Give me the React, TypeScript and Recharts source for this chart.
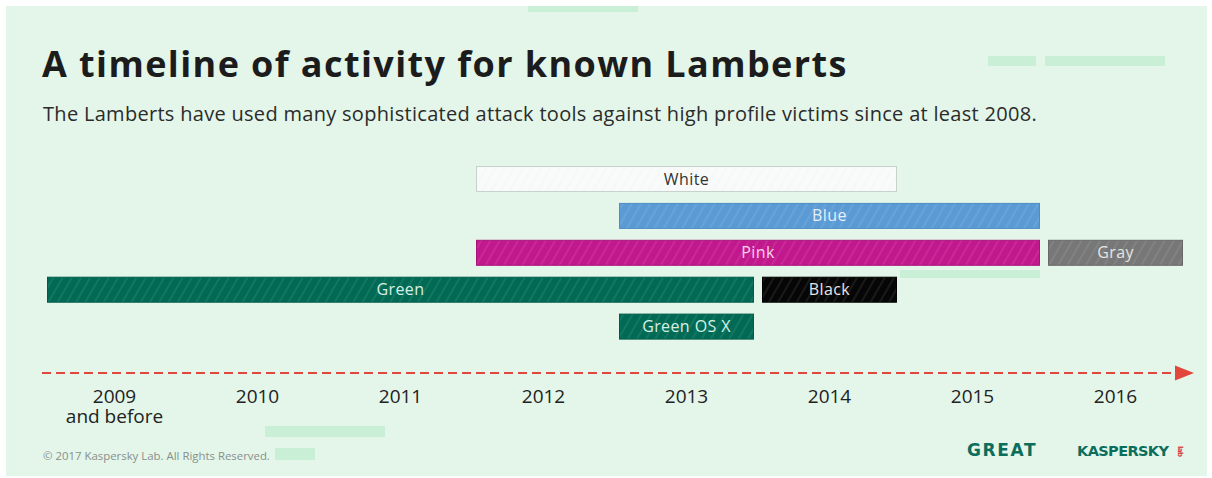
import React from 'react';
import { BarChart, Bar, XAxis, YAxis } from 'recharts';

// years shown on the timeline
const YEARS = [2009, 2010, 2011, 2012, 2013, 2014, 2015, 2016];
const FIRST_YEAR_NOTE = 'and before';

// one chart row per line of bars
const ROW_KEYS = ['r1', 'r2', 'r3', 'r4', 'r5'];

// first bar on each row
const MAIN_NAMES = ['White', 'Blue', 'Pink', 'Green', 'Green OS X'];
const MAIN_FROM = [2012, 2013, 2012, 2009, 2013];
const MAIN_TO = [2014, 2015, 2015, 2013, 2013];

// second bar on a row, if any
const EXTRA_NAMES = ['', '', 'Gray', 'Black', ''];
const EXTRA_FROM: (number | null)[] = [null, null, 2016, 2014, null];
const EXTRA_TO: (number | null)[] = [null, null, 2016, 2014, null];

// part of a year column that a bar covers (the rest is the gap)
const COLUMN_FILL = 135 / 143;

const BAR_STYLE: Record<string, { fill: string; stroke: string; text: string }> = {
  White: { fill: '#f9fbfa', stroke: '#c8d2cd', text: '#333333' },
  Blue: { fill: '#5b9bd5', stroke: '#4d8bc4', text: '#e6f0fa' },
  Pink: { fill: '#c2188e', stroke: '#a9127b', text: '#f6d3ea' },
  Gray: { fill: '#777777', stroke: '#686868', text: '#e4e4e4' },
  Green: { fill: '#006a54', stroke: '#005c49', text: '#d6f0e4' },
  Black: { fill: '#060606', stroke: '#000000', text: '#e6e6e6' },
  'Green OS X': { fill: '#006a54', stroke: '#005c49', text: '#d6f0e4' },
};

// light highlight strips in the backdrop: [left, top, width, height]
const BACKDROP_STRIPS = [
  [528, 6, 110, 6],
  [988, 56, 48, 10],
  [1045, 56, 120, 10],
  [900, 270, 140, 8],
  [265, 426, 120, 11],
  [275, 448, 40, 12],
];

const tableData = ROW_KEYS.map((row, i) => ({
  row,
  mainName: MAIN_NAMES[i],
  main: [MAIN_FROM[i], MAIN_TO[i] + COLUMN_FILL],
  extraName: EXTRA_NAMES[i],
  extra: EXTRA_FROM[i] == null ? null : [EXTRA_FROM[i] as number, (EXTRA_TO[i] as number) + COLUMN_FILL],
}));

const tickCenters = YEARS.map((y) => y + COLUMN_FILL / 2);

const makeShape = (nameKey: 'mainName' | 'extraName') => (props: any) => {
  const { x, y, width, height, payload } = props;
  const name = payload ? payload[nameKey] : '';
  if (!name || !width || width <= 0) return <g />;
  const s = BAR_STYLE[name];
  return (
    <g>
      <rect x={x + 0.5} y={y + 0.5} width={width - 1} height={height - 1} fill={s.fill} stroke={s.stroke} strokeWidth={1} />
      <rect x={x + 1} y={y + 1} width={width - 2} height={height - 2} fill={name === 'White' ? 'url(#stripesDark)' : 'url(#stripes)'} />
      <text
        x={x + width / 2}
        y={y + height / 2 + 5.5}
        textAnchor="middle"
        fontSize={16}
        letterSpacing={0.4}
        fontFamily="'Open Sans', sans-serif"
        fill={s.text}
      >
        {name}
      </text>
    </g>
  );
};

const YearTick = (props: any) => {
  const { x, y, payload } = props;
  const year = Math.round(payload.value - COLUMN_FILL / 2);
  if (year === YEARS[0]) {
    // two-line label kept in one text node
    return (
      <foreignObject x={x - 70} y={y + 41.5} width={140} height={46}>
        <div
          style={{
            textAlign: 'center',
            whiteSpace: 'pre-line',
            fontFamily: "'Open Sans', sans-serif",
            fontSize: 19,
            lineHeight: '19.6px',
            color: '#222222',
          }}
        >
          {`${year}\n${FIRST_YEAR_NOTE}`}
        </div>
      </foreignObject>
    );
  }
  return (
    <text x={x} y={y + 57} textAnchor="middle" fontSize={19} fill="#222222" fontFamily="'Open Sans', sans-serif">
      {year}
    </text>
  );
};

export default function App() {
  return (
    <div style={{ position: 'absolute', left: 0, top: 0, width: 1212, height: 478, background: '#ffffff', overflow: 'hidden' }}>
      <div style={{ position: 'absolute', left: 6, top: 6, width: 1201, height: 470, background: '#e3f6e9' }} />
      {BACKDROP_STRIPS.map(([l, t, w, h], i) => (
        <div key={i} style={{ position: 'absolute', left: l, top: t, width: w, height: h, background: '#c9f0d7' }} />
      ))}

      <div
        style={{
          position: 'absolute',
          left: 42,
          top: 46,
          fontFamily: "'Open Sans', sans-serif",
          fontWeight: 700,
          fontSize: 36,
          lineHeight: '36px',
          letterSpacing: 1.4,
          color: '#1c1c1c',
          whiteSpace: 'nowrap',
        }}
      >
        A timeline of activity for known Lamberts
      </div>
      <div
        style={{
          position: 'absolute',
          left: 43,
          top: 103,
          fontFamily: "'Open Sans', sans-serif",
          fontSize: 20,
          lineHeight: '22px',
          letterSpacing: 0.3,
          color: '#2b2b2b',
          whiteSpace: 'nowrap',
        }}
      >
        The Lamberts have used many sophisticated attack tools against high profile victims since at least 2008.
      </div>

      <div style={{ position: 'absolute', left: 0, top: 0 }}>
        <BarChart
          width={1212}
          height={478}
          data={tableData}
          layout="vertical"
          margin={{ top: 161, right: 29, bottom: 72.5, left: 47 }}
        >
          <defs>
            <pattern id="stripes" width="8" height="8" patternUnits="userSpaceOnUse" patternTransform="rotate(30)">
              <line x1="1" y1="0" x2="1" y2="8" stroke="rgba(255,255,255,0.1)" strokeWidth="1.5" />
            </pattern>
            <pattern id="stripesDark" width="8" height="8" patternUnits="userSpaceOnUse" patternTransform="rotate(30)">
              <line x1="1" y1="0" x2="1" y2="8" stroke="rgba(0,0,0,0.012)" strokeWidth="1.5" />
            </pattern>
          </defs>
          <XAxis
            type="number"
            domain={[YEARS[0], YEARS[YEARS.length - 1] + COLUMN_FILL]}
            ticks={tickCenters}
            interval={0}
            allowDataOverflow
            axisLine={false}
            tickLine={false}
            tickSize={0}
            tickMargin={0}
            height={60}
            tick={<YearTick />}
          />
          <YAxis yAxisId="main" type="category" dataKey="row" hide />
          <YAxis yAxisId="extra" type="category" dataKey="row" hide />
          <Bar yAxisId="main" dataKey="main" barSize={26} shape={makeShape('mainName')} isAnimationActive={false} />
          <Bar yAxisId="extra" dataKey="extra" barSize={26} shape={makeShape('extraName')} isAnimationActive={false} />
          <g>
            <line x1={42} y1={373} x2={1180} y2={373} stroke="#e2473b" strokeWidth={2} strokeDasharray="9 5" />
            <polygon points="1175,365.5 1194,373 1175,380.5" fill="#e2473b" />
          </g>
        </BarChart>
      </div>

      <div
        style={{
          position: 'absolute',
          left: 43,
          top: 449,
          fontFamily: "'Open Sans', sans-serif",
          fontSize: 11.4,
          lineHeight: '14px',
          color: '#8a8f8c',
          whiteSpace: 'nowrap',
        }}
      >
        © 2017 Kaspersky Lab. All Rights Reserved.
      </div>
      <div
        style={{
          position: 'absolute',
          left: 967,
          top: 440,
          fontFamily: "'DejaVu Sans', sans-serif",
          fontWeight: 700,
          fontSize: 17,
          lineHeight: '20px',
          letterSpacing: 1.6,
          color: '#0b6d5c',
          whiteSpace: 'nowrap',
        }}
      >
        GREAT
      </div>
      <div
        style={{
          position: 'absolute',
          left: 1077,
          top: 441,
          fontFamily: "'DejaVu Sans', sans-serif",
          fontWeight: 700,
          fontSize: 14.5,
          lineHeight: '20px',
          letterSpacing: -0.6,
          color: '#0b6d5c',
          whiteSpace: 'nowrap',
        }}
      >
        KASPERSKY<span style={{ color: '#d7363a', fontSize: 7, marginLeft: 2, writingMode: 'vertical-rl' }}>lab</span>
      </div>
    </div>
  );
}
